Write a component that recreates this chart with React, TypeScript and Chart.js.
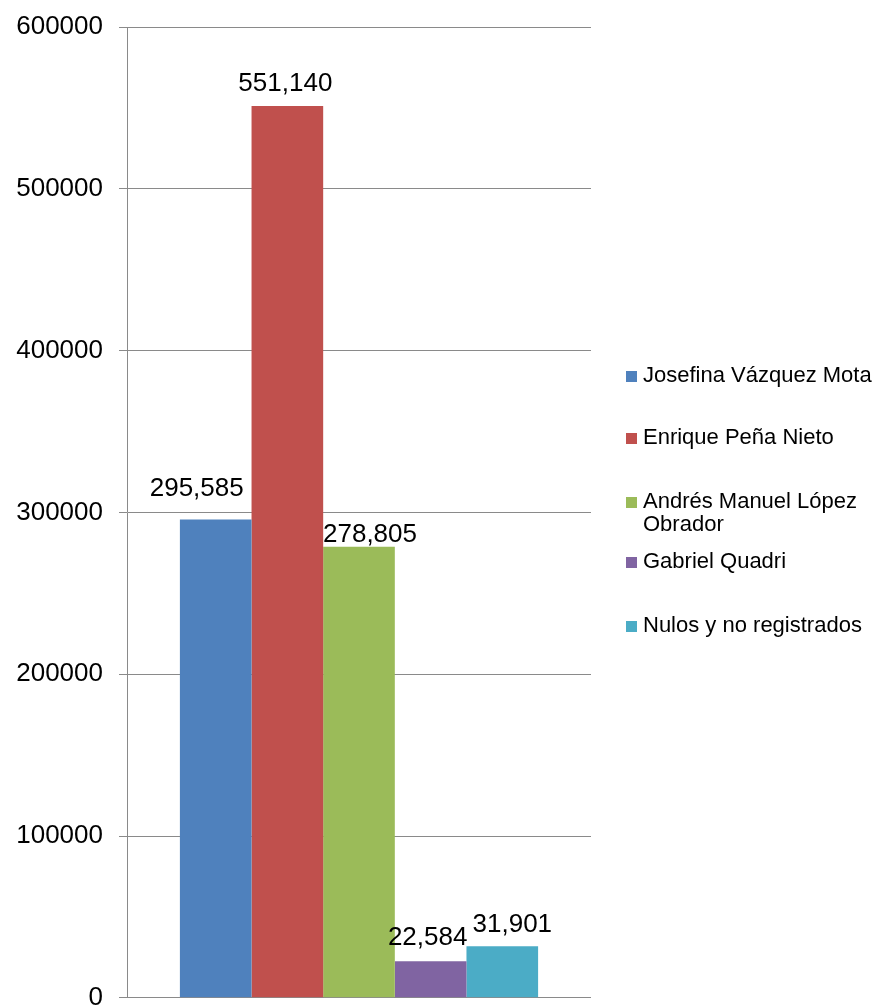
import React, { useEffect, useRef } from "react";
import { Chart, registerables } from "chart.js";

Chart.register(...registerables);

const categories: string[] = [""];
const seriesNames: string[] = [
  "Josefina Vázquez Mota",
  "Enrique Peña Nieto",
  "Andrés Manuel López Obrador",
  "Gabriel Quadri",
  "Nulos y no registrados",
];
const seriesValues: number[] = [295585, 551140, 278805, 22584, 31901];
const seriesColors: string[] = ["#4F81BD", "#C0504D", "#9BBB59", "#8064A2", "#4BACC6"];
const yTicks: number[] = [0, 100000, 200000, 300000, 400000, 500000, 600000];

// label placement tweaks (dx, gap above bar top) per series
const labelDx: number[] = [-19, -2, 11, -3, 10];
const labelGap: number[] = [24, 15, 5, 16, 14];

const FONT = '"Liberation Sans", Arial, sans-serif';
const GRID = "#8a8a8a";

const dataLabelPlugin = {
  id: "dataLabels",
  afterDatasetsDraw(chart: any) {
    const ctx = chart.ctx;
    ctx.save();
    ctx.font = `26px ${FONT}`;
    ctx.fillStyle = "#000";
    ctx.textAlign = "center";
    ctx.textBaseline = "alphabetic";
    chart.data.datasets.forEach((ds: any, i: number) => {
      const meta = chart.getDatasetMeta(i);
      meta.data.forEach((el: any, j: number) => {
        const v = ds.data[j];
        const txt = Number(v).toLocaleString("en-US");
        ctx.fillText(txt, el.x + labelDx[i], el.y - labelGap[i]);
      });
    });
    ctx.restore();
  },
};

function Legend() {
  const items = [
    { top: 363, lines: [seriesNames[0]] },
    { top: 425, lines: [seriesNames[1]] },
    { top: 489, lines: ["Andrés Manuel López", "Obrador"] },
    { top: 549, lines: [seriesNames[3]] },
    { top: 613, lines: [seriesNames[4]] },
  ];
  return (
    <>
      {items.map((it, i) => (
        <React.Fragment key={i}>
          <div
            style={{
              position: "absolute",
              left: 626,
              top: it.top + 8,
              width: 11,
              height: 11,
              background: seriesColors[i],
            }}
          />
          <div
            style={{
              position: "absolute",
              left: 643,
              top: it.top,
              fontFamily: FONT,
              fontSize: 22,
              lineHeight: "23px",
              color: "#000",
              whiteSpace: "nowrap",
            }}
          >
            {it.lines.map((l, k) => (
              <div key={k}>{l}</div>
            ))}
          </div>
        </React.Fragment>
      ))}
    </>
  );
}

export default function App() {
  const ref = useRef<HTMLCanvasElement | null>(null);

  useEffect(() => {
    if (!ref.current) return;
    const chart = new Chart(ref.current, {
      type: "bar",
      data: {
        labels: categories,
        datasets: seriesNames.map((name, i) => ({
          label: name,
          data: [seriesValues[i]],
          backgroundColor: seriesColors[i],
          borderWidth: 0,
          categoryPercentage: 0.772,
          barPercentage: 1,
        })),
      },
      options: {
        animation: false,
        responsive: false,
        maintainAspectRatio: false,
        layout: { padding: { left: 0, top: 27, right: 283, bottom: 0 } },
        plugins: {
          legend: { display: false },
          tooltip: { enabled: false },
        },
        scales: {
          x: {
            display: false,
          },
          y: {
            min: 0,
            max: 600000,
            afterBuildTicks: (scale: any) => {
              scale.ticks = yTicks.map((v) => ({ value: v }));
            },
            afterFit: (scale: any) => {
              scale.width = 127;
            },
            ticks: {
              color: "#000",
              font: { family: FONT, size: 26, lineHeight: 0.4 },
              padding: 16,
              callback: (v: any) => String(v),
            },
            grid: { color: GRID, lineWidth: 1, tickLength: 8, drawTicks: true },
            border: { display: true, color: GRID, width: 1 },
          },
        },
      },
      plugins: [dataLabelPlugin],
    });
    return () => chart.destroy();
  }, []);

  return (
    <div
      style={{
        position: "absolute",
        left: 0,
        top: 0,
        width: 874,
        height: 1005,
        overflow: "hidden",
        background: "#fff",
      }}
    >
      <canvas ref={ref} width={874} height={1019} style={{ display: "block" }} />
      <Legend />
    </div>
  );
}
